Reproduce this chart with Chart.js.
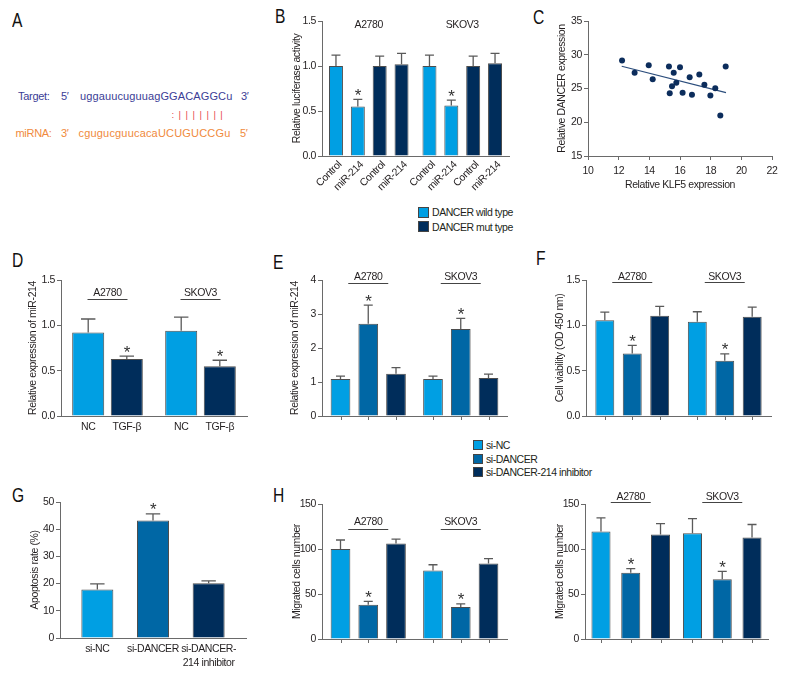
<!DOCTYPE html>
<html><head><meta charset="utf-8">
<script src="https://cdn.jsdelivr.net/npm/chart.js@4.4.1/dist/chart.umd.min.js"></script>
<style>
body{margin:0;width:792px;height:684px;background:#fff;position:relative;overflow:hidden;font-family:'Liberation Sans',Arial,sans-serif;color:#231f20;}
canvas{position:absolute;}
.pl{position:absolute;font-size:20px;line-height:1;color:#111;transform:scaleX(0.78);transform-origin:0 0;}
.leg{position:absolute;font-size:10.5px;letter-spacing:-0.45px;color:#231f20;}
.leg div{white-space:nowrap;display:flex;align-items:center;}
.leg span{display:inline-block;border:1px solid #444;box-sizing:border-box;margin-right:3px;}
svg{position:absolute;left:0;top:0;}
svg text{letter-spacing:-0.3px;}
</style></head><body>

<svg width="270" height="200" font-family="'Liberation Sans',Arial,sans-serif">
  <text x="18" y="100" fill="#3b3d96" font-size="11">Target:</text>
  <text x="61" y="100" fill="#3b3d96" font-size="11">5′</text>
  <text x="80" y="100" fill="#3b3d96" font-size="11" textLength="152" lengthAdjust="spacing">uggauucuguuagGGACAGGCu</text>
  <text x="241" y="100" fill="#3b3d96" font-size="11">3′</text>
  <text x="171.5" y="117.5" fill="#e8474f" font-size="9.5" textLength="51" lengthAdjust="spacing">:|||||||</text>
  <text x="15.5" y="137" fill="#f08a3c" font-size="11">miRNA:</text>
  <text x="61" y="137" fill="#f08a3c" font-size="11">3′</text>
  <text x="78.5" y="137" fill="#f08a3c" font-size="11" textLength="151.5" lengthAdjust="spacing">cgugucguucacaUCUGUCCGu</text>
  <text x="240" y="137" fill="#f08a3c" font-size="11">5′</text>
</svg>

<div class="pl" style="left:12px;top:10px">A</div>
<div class="pl" style="left:275px;top:6px">B</div>
<div class="pl" style="left:533px;top:7px">C</div>
<div class="pl" style="left:12px;top:250px">D</div>
<div class="pl" style="left:273px;top:252px">E</div>
<div class="pl" style="left:536px;top:248px">F</div>
<div class="pl" style="left:12px;top:485px">G</div>
<div class="pl" style="left:273px;top:485px">H</div>

<div class="leg" id="legB" style="left:418px;top:205px"></div>
<div class="leg" id="legSi" style="left:473px;top:438px"></div>

<script>
// ================= DATA =================
const cellLines = ['A2780', 'SKOV3'];

// Panel B – luciferase
const bLegend = ['DANCER wild type', 'DANCER mut type'];
const bBarLabels = ['Control', 'miR-214', 'Control', 'miR-214'];
const bWtControl = [1.00, 1.00],  bWtControlErr = [1.12, 1.12];
const bWtMiR = [0.55, 0.56],      bWtMiRErr = [0.63, 0.62];
const bMutControl = [1.00, 1.00], bMutControlErr = [1.11, 1.11];
const bMutMiR = [1.02, 1.03],     bMutMiRErr = [1.14, 1.14];
const bStars = [[false, false], [true, true], [false, false], [false, false]];
const bTicks = [0, 0.5, 1.0, 1.5];

// Panel C – scatter
const klf5 =   [12.22, 13.04, 13.96, 14.22, 15.28, 15.33, 15.48, 15.59, 15.76, 16.00, 16.17, 16.63, 16.78, 17.26, 17.59, 17.98, 18.30, 18.63, 18.98];
const dancer = [29.14, 27.32, 28.45, 26.38, 28.25, 24.31, 25.34, 27.32, 25.84, 28.15, 24.36, 26.67, 24.06, 27.07, 25.54, 23.97, 25.05, 21.01, 28.25];
const fitX = [12.2, 19.0];
const fitY = [28.3, 24.4];
const cXTicks = [10, 12, 14, 16, 18, 20, 22];
const cYTicks = [15, 20, 25, 30, 35];

// Panel D – TGF-β
const dBarLabels = ['NC', 'TGF-β'];
const dNC = [0.92, 0.94],  dNCErr = [1.07, 1.09];
const dTGF = [0.63, 0.55], dTGFErr = [0.66, 0.615];
const dStars = [[false, false], [true, true]];
const dTicks = [0, 0.5, 1.0, 1.5];

// shared groups (E, F, G, H)
const siLegend = ['si-NC', 'si-DANCER', 'si-DANCER-214 inhibitor'];
const siStars = [[false, false], [true, true], [false, false]];

// Panel E – miR-214 expression
const eSiNC = [1.09, 1.09],      eSiNCErr = [1.17, 1.17];
const eSiDANCER = [2.71, 2.56],  eSiDANCERErr = [3.26, 2.87];
const eInhibitor = [1.24, 1.12], eInhibitorErr = [1.42, 1.23];
const eTicks = [0, 1, 2, 3, 4];

// Panel F – cell viability
const fSiNC = [1.055, 1.04],      fSiNCErr = [1.145, 1.15];
const fSiDANCER = [0.69, 0.61],   fSiDANCERErr = [0.78, 0.685];
const fInhibitor = [1.105, 1.095], fInhibitorErr = [1.21, 1.20];
const fTicks = [0, 0.5, 1.0, 1.5];

// Panel G – apoptosis
const gBarLabels = ['si-NC', 'si-DANCER', ['si-DANCER-', '214 inhibitor']];
const gApoptosis = [17.8, 43.2, 20.1];
const gApoptosisErr = [19.9, 45.6, 21.0];
const gStars = [[false], [true], [false]];
const gTicks = [0, 10, 20, 30, 40, 50];

// Panel H – migrated cells (left)
const hSiNC = [100, 76],        hSiNCErr = [110, 82.5];
const hSiDANCER = [38, 35.5],   hSiDANCERErr = [41.7, 39];
const hInhibitor = [106, 83.8], hInhibitorErr = [111, 89.3];
// Panel H – migrated cells (right)
const h2SiNC = [119.5, 117.6],      h2SiNCErr = [134.6, 133.8];
const h2SiDANCER = [73.7, 66.4],    h2SiDANCERErr = [78.1, 75.2];
const h2Inhibitor = [116.2, 112.8], h2InhibitorErr = [128.3, 127.2];
const hTicks = [0, 50, 100, 150];

// ================= STYLE =================
const LIGHT = '#009fe3', MID = '#0067a5', DARK = '#002d5b', NAVY = '#0c2d5c';
const BORDER = '#4d4d4d', AXIS = '#6a6a6a', TXT = '#231f20';
const FONT = "'Liberation Sans',Arial,sans-serif";
const FS = 10.5;
const LS = '-0.4px';
Chart.defaults.font.family = FONT;
Chart.defaults.font.size = FS;
Chart.defaults.color = TXT;
Chart.defaults.animation = false;
Chart.defaults.plugins.legend.display = false;
Chart.defaults.plugins.tooltip.enabled = false;

// ================= PLUGIN: error bars, stars, labels, group titles =================
const decor = {
  id: 'decor',
  beforeLayout(chart) { chart.ctx.letterSpacing = LS; },
  beforeDraw(chart) { chart.ctx.letterSpacing = LS; },
  afterDatasetsDraw(chart, args, o) {
    if (!o || !chart.scales.y) return;
    const ctx = chart.ctx, a = chart.chartArea, ys = chart.scales.y;
    const bars = [];
    chart.data.datasets.forEach((ds, di) => {
      const meta = chart.getDatasetMeta(di);
      if (meta.type !== 'bar') return;
      meta.data.forEach((el, i) => bars.push({ el, di, i }));
    });
    if (!bars.length) return;
    ctx.save();
    // error bars + stars
    if (o.err) bars.forEach(({ el, di, i }) => {
      const e = o.err[di] ? o.err[di][i] : null;
      if (e == null) return;
      const ye = ys.getPixelForValue(e);
      const cap = Math.max(9, el.width * 0.45);
      ctx.strokeStyle = '#5a5a5a'; ctx.lineWidth = 1.3;
      ctx.beginPath();
      ctx.moveTo(el.x, el.y); ctx.lineTo(el.x, ye);
      ctx.moveTo(el.x - cap / 2, ye); ctx.lineTo(el.x + cap / 2, ye);
      ctx.stroke();
      if (o.stars && o.stars[di] && o.stars[di][i]) {
        ctx.fillStyle = '#333'; ctx.font = '17px ' + FONT;
        ctx.textAlign = 'center'; ctx.textBaseline = 'alphabetic';
        ctx.fillText('*', el.x, ye + 1.5);
      }
    });
    // tick marks under each bar
    if (o.barTicks) {
      ctx.strokeStyle = AXIS; ctx.lineWidth = 1;
      bars.forEach(({ el }) => {
        const x = Math.round(el.x) + 0.5;
        ctx.beginPath(); ctx.moveTo(x, a.bottom); ctx.lineTo(x, a.bottom + 4); ctx.stroke();
      });
    }
    // labels under each bar
    if (o.barLabels) {
      ctx.fillStyle = TXT; ctx.font = FS + 'px ' + FONT;
      bars.forEach(({ el, di }) => {
        const lab = o.barLabels[di];
        if (lab == null) return;
        if (o.rotate) {
          ctx.save();
          ctx.translate(el.x + o.labelDx, a.bottom + o.labelDy);
          ctx.rotate(o.rotate * Math.PI / 180);
          ctx.textAlign = 'right'; ctx.textBaseline = 'middle';
          ctx.fillText(lab, 0, 0);
          ctx.restore();
        } else {
          const lines = Array.isArray(lab) ? lab : [lab];
          ctx.textAlign = 'center'; ctx.textBaseline = 'middle';
          lines.forEach((t, k) => ctx.fillText(t, el.x, a.bottom + o.labelDy + k * 14));
        }
      });
    }
    // group titles (category labels) above groups
    if (o.groups) {
      const g = o.groups;
      chart.data.labels.forEach((lab, i) => {
        const xs = bars.filter(b => b.i === i).map(b => b.el.x);
        const cx = (Math.min(...xs) + Math.max(...xs)) / 2;
        ctx.fillStyle = TXT; ctx.font = FS + 'px ' + FONT;
        ctx.textAlign = 'center'; ctx.textBaseline = 'middle';
        ctx.fillText(lab, cx, a.top + g.textDy);
        if (g.line) {
          const y = Math.round(a.top + g.lineDy) + 0.5;
          ctx.strokeStyle = '#444'; ctx.lineWidth = 1;
          ctx.beginPath(); ctx.moveTo(cx - 20, y); ctx.lineTo(cx + 20, y); ctx.stroke();
        }
      });
    }
    ctx.restore();
  }
};
Chart.register(decor);

// ================= HELPERS =================
function yScale(ticks, title, decimals) {
  return {
    type: 'linear', min: ticks[0], max: ticks[ticks.length - 1],
    afterBuildTicks: s => { s.ticks = ticks.map(v => ({ value: v })); },
    ticks: { padding: 2, color: TXT, font: { size: FS }, callback: v => decimals ? Number(v).toFixed(decimals) : String(v) },
    grid: { display: true, drawOnChartArea: false, drawTicks: true, tickLength: 4, color: AXIS },
    border: { display: true, color: AXIS, width: 1 },
    title: { display: true, text: title, color: TXT, font: { size: FS } }
  };
}
function xCat() {
  return { type: 'category', offset: true, ticks: { display: false }, grid: { display: false }, border: { display: true, color: AXIS, width: 1 } };
}
function makeChart(area, pad, config) {
  const cv = document.createElement('canvas');
  const w = area.r - area.l + pad.l + pad.r, h = area.b - area.t + pad.t + pad.b;
  const left = area.l - pad.l, top = area.t - pad.t;
  cv.width = w; cv.height = h;
  cv.style.left = left + 'px'; cv.style.top = top + 'px';
  cv.style.width = w + 'px'; cv.style.height = h + 'px';
  document.body.appendChild(cv);
  const o = config.options;
  const lh = FS * 1.2 / 2;
  o.responsive = false; o.maintainAspectRatio = false; o.animation = false;
  o.layout = { padding: { left: 0, top: pad.t, right: pad.r, bottom: 0 } };
  o.scales.y.afterFit = s => { s.width = pad.l; };
  o.scales.x.afterFit = s => { s.height = pad.b; };
  if (o.scales.y.title && area.titleX != null) o.scales.y.title.padding = { top: area.titleX - left - lh, bottom: 0 };
  if (o.scales.x.title && area.xTitleY != null) o.scales.x.title.padding = { top: 0, bottom: (top + h) - area.xTitleY - lh };
  return new Chart(cv, config);
}
function bar(label, data, color) {
  return { label, data, backgroundColor: color, borderColor: BORDER, borderWidth: 1 };
}
const siColors = [LIGHT, MID, DARK];
function siSets(series) { return series.map((d, k) => bar(siLegend[k], d, siColors[k])); }

// ================= PANEL B =================
makeChart({ l: 322, t: 21, r: 509, b: 156, titleX: 297 }, { l: 52, t: 14, r: 5, b: 48 }, {
  type: 'bar',
  data: { labels: cellLines, datasets: [
    bar(bLegend[0] + ' – ' + bBarLabels[0], bWtControl, LIGHT),
    bar(bLegend[0] + ' – ' + bBarLabels[1], bWtMiR, LIGHT),
    bar(bLegend[1] + ' – ' + bBarLabels[2], bMutControl, DARK),
    bar(bLegend[1] + ' – ' + bBarLabels[3], bMutMiR, DARK)
  ].map(d => Object.assign(d, { categoryPercentage: 0.935, barPercentage: 0.64 })) },
  options: {
    scales: { x: xCat(), y: yScale(bTicks, 'Relative luciferase activity', 1) },
    plugins: { decor: {
      err: [bWtControlErr, bWtMiRErr, bMutControlErr, bMutMiRErr], stars: bStars,
      barLabels: bBarLabels, rotate: -45, labelDx: 4, labelDy: 7,
      groups: { textDy: 4, line: false }
    } }
  }
});

// ================= PANEL C =================
makeChart({ l: 588, t: 21, r: 772, b: 156, titleX: 562, xTitleY: 185 }, { l: 58, t: 12, r: 14, b: 38 }, {
  type: 'scatter',
  data: { datasets: [
    { label: 'samples', data: klf5.map((x, i) => ({ x, y: dancer[i] })), backgroundColor: NAVY, pointRadius: 3, pointBorderWidth: 0 },
    { type: 'line', label: 'fit', data: fitX.map((x, i) => ({ x, y: fitY[i] })), borderColor: '#2b4d7c', borderWidth: 1.2, pointRadius: 0, fill: false }
  ] },
  options: {
    scales: {
      x: {
        type: 'linear', min: cXTicks[0], max: cXTicks[cXTicks.length - 1],
        afterBuildTicks: s => { s.ticks = cXTicks.map(v => ({ value: v })); },
        ticks: { padding: 5, color: TXT, font: { size: FS } },
        grid: { display: true, drawOnChartArea: false, drawTicks: true, tickLength: 4, color: AXIS },
        border: { display: true, color: AXIS },
        title: { display: true, text: 'Relative KLF5 expression', color: TXT, font: { size: FS } }
      },
      y: yScale(cYTicks, 'Relative DANCER expression', 0)
    }
  }
});

// ================= PANEL D =================
makeChart({ l: 61, t: 280, r: 247, b: 416, titleX: 33 }, { l: 55, t: 22, r: 6, b: 24 }, {
  type: 'bar',
  data: { labels: cellLines, datasets: [bar(dBarLabels[0], dNC, LIGHT), bar(dBarLabels[1], dTGF, DARK)]
    .map(d => Object.assign(d, { categoryPercentage: 0.83, barPercentage: 0.83 })) },
  options: {
    scales: { x: xCat(), y: yScale(dTicks, 'Relative expression of miR-214', 1) },
    plugins: { decor: { err: [dNCErr, dTGFErr], stars: dStars, barLabels: dBarLabels, labelDy: 11,
      groups: { textDy: 12.7, lineDy: 19.3, line: true } } }
  }
});

// ================= PANEL E =================
makeChart({ l: 322, t: 280, r: 507, b: 416, titleX: 295 }, { l: 52, t: 12, r: 6, b: 10 }, {
  type: 'bar',
  data: { labels: cellLines, datasets: siSets([eSiNC, eSiDANCER, eInhibitor])
    .map(d => Object.assign(d, { categoryPercentage: 0.9, barPercentage: 0.71 })) },
  options: {
    scales: { x: xCat(), y: yScale(eTicks, 'Relative expression of miR-214', 0) },
    plugins: { decor: { err: [eSiNCErr, eSiDANCERErr, eInhibitorErr], stars: siStars, barTicks: true,
      groups: { textDy: -3.3, lineDy: 2.7, line: true } } }
  }
});

// ================= PANEL F =================
makeChart({ l: 586, t: 280, r: 771, b: 416, titleX: 560 }, { l: 54, t: 12, r: 6, b: 10 }, {
  type: 'bar',
  data: { labels: cellLines, datasets: siSets([fSiNC, fSiDANCER, fInhibitor])
    .map(d => Object.assign(d, { categoryPercentage: 0.89, barPercentage: 0.69 })) },
  options: {
    scales: { x: xCat(), y: yScale(fTicks, 'Cell viability (OD 450 nm)', 1) },
    plugins: { decor: { err: [fSiNCErr, fSiDANCERErr, fInhibitorErr], stars: siStars, barTicks: true,
      groups: { textDy: -3.3, lineDy: 2.3, line: true } } }
  }
});

// ================= PANEL G =================
makeChart({ l: 60, t: 502, r: 246, b: 638, titleX: 35 }, { l: 54, t: 14, r: 6, b: 34 }, {
  type: 'bar',
  data: { labels: [''], datasets: siSets(gApoptosis.map(v => [v]))
    .map(d => Object.assign(d, { categoryPercentage: 0.8976, barPercentage: 0.575 })) },
  options: {
    scales: { x: xCat(), y: yScale(gTicks, 'Apoptosis rate (%)', 0) },
    plugins: { decor: { err: gApoptosisErr.map(v => [v]), stars: gStars, barLabels: gBarLabels, labelDy: 11.3 } }
  }
});

// ================= PANEL H (left) =================
makeChart({ l: 322, t: 504, r: 507, b: 639, titleX: 297 }, { l: 52, t: 10, r: 6, b: 10 }, {
  type: 'bar',
  data: { labels: cellLines, datasets: siSets([hSiNC, hSiDANCER, hInhibitor])
    .map(d => Object.assign(d, { categoryPercentage: 0.9, barPercentage: 0.71 })) },
  options: {
    scales: { x: xCat(), y: yScale(hTicks, 'Migrated cells number', 0) },
    plugins: { decor: { err: [hSiNCErr, hSiDANCERErr, hInhibitorErr], stars: siStars, barTicks: true,
      groups: { textDy: 18, lineDy: 25, line: true } } }
  }
});

// ================= PANEL H (right) =================
makeChart({ l: 585, t: 504, r: 768, b: 639, titleX: 560 }, { l: 54, t: 16, r: 9, b: 10 }, {
  type: 'bar',
  data: { labels: cellLines, datasets: siSets([h2SiNC, h2SiDANCER, h2Inhibitor])
    .map(d => Object.assign(d, { categoryPercentage: 0.976, barPercentage: 0.64 })) },
  options: {
    scales: { x: xCat(), y: yScale(hTicks, 'Migrated cells number', 0) },
    plugins: { decor: { err: [h2SiNCErr, h2SiDANCERErr, h2InhibitorErr], stars: siStars, barTicks: true,
      groups: { textDy: -7.3, lineDy: -1.7, line: true } } }
  }
});

// ================= LEGENDS =================
function legend(id, names, colors, box, rowH) {
  const el = document.getElementById(id);
  names.forEach((n, k) => {
    const row = document.createElement('div');
    row.style.height = rowH + 'px';
    const sw = document.createElement('span');
    sw.style.width = box + 'px'; sw.style.height = box + 'px'; sw.style.background = colors[k];
    row.appendChild(sw);
    row.appendChild(document.createTextNode(n));
    el.appendChild(row);
  });
}
legend('legB', bLegend, [LIGHT, DARK], 11, 14.4);
legend('legSi', siLegend, siColors, 10, 13.7);
</script>
</body></html>
